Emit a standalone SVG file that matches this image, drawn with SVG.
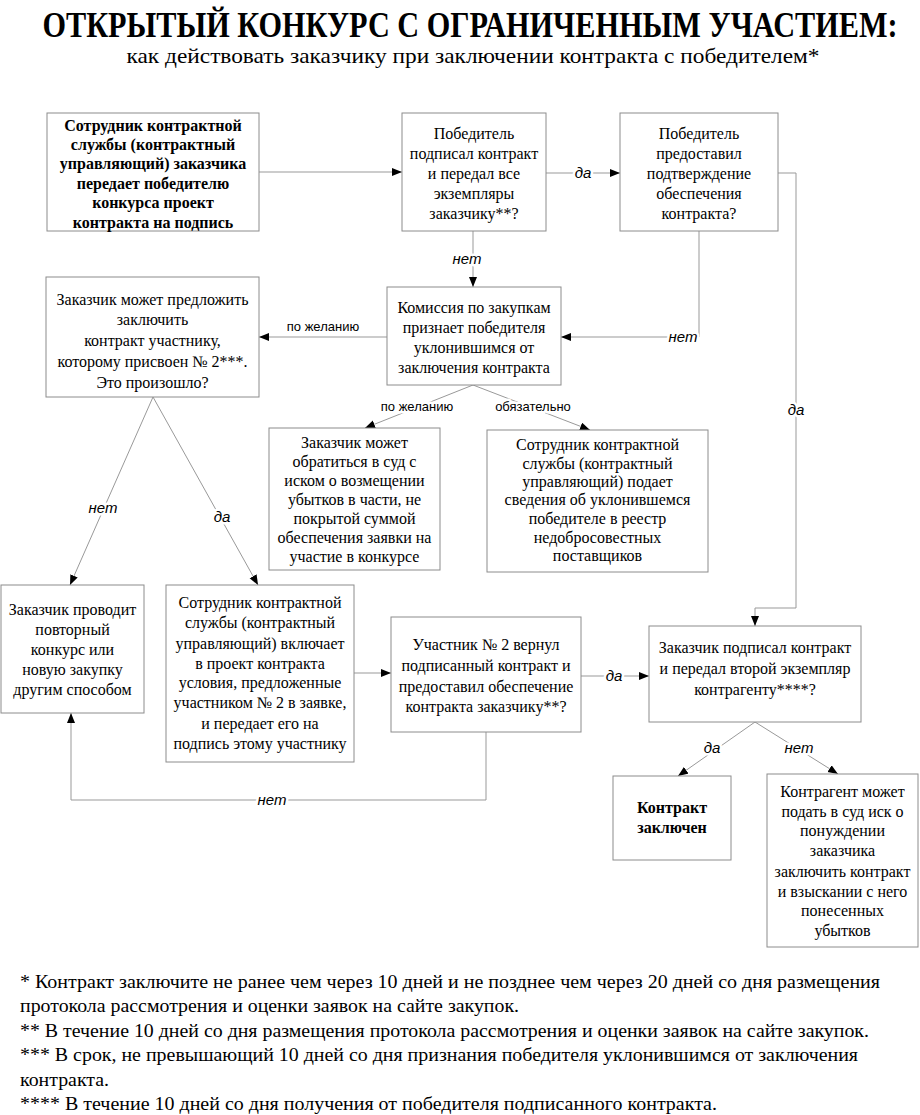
<svg xmlns="http://www.w3.org/2000/svg" width="920" height="1115" viewBox="0 0 920 1115">
<defs>
<marker id="ah" markerWidth="11" markerHeight="9" refX="10" refY="4" orient="auto" markerUnits="userSpaceOnUse">
<path d="M0,0 L10,4 L0,8 z" fill="#000"/>
</marker>
</defs>
<rect width="920" height="1115" fill="#fff"/>
<g id="title" font-family="'Liberation Serif','Times New Roman',serif" text-anchor="middle" fill="#000">
<text transform="translate(470,37) scale(0.8,1)" x="0" y="0" font-size="36" font-weight="bold" textLength="1069" lengthAdjust="spacingAndGlyphs">ОТКРЫТЫЙ КОНКУРС С ОГРАНИЧЕННЫМ УЧАСТИЕМ:</text>
<text x="473" y="63" font-size="21" textLength="693" lengthAdjust="spacingAndGlyphs">как действовать заказчику при заключении контракта с победителем*</text>
</g>
<g id="connectors">
<g fill="none" stroke="#999" stroke-width="1">
<line x1="259" y1="172" x2="402" y2="172" marker-end="url(#ah)"/>
<line x1="546" y1="173" x2="620" y2="173" marker-end="url(#ah)"/>
<line x1="473" y1="231" x2="473" y2="287" marker-end="url(#ah)"/>
<polyline points="699,231 699,337 561,337" marker-end="url(#ah)"/>
<polyline points="778,173 796,173 796,608 755,608 755,626" marker-end="url(#ah)"/>
<line x1="387" y1="337" x2="259" y2="337" marker-end="url(#ah)"/>
<line x1="473" y1="385" x2="365" y2="428" marker-end="url(#ah)"/>
<line x1="473" y1="385" x2="590" y2="430" marker-end="url(#ah)"/>
<line x1="153" y1="397" x2="70" y2="585" marker-end="url(#ah)"/>
<line x1="153" y1="397" x2="258" y2="585" marker-end="url(#ah)"/>
<line x1="354" y1="673" x2="391" y2="673" marker-end="url(#ah)"/>
<line x1="581" y1="676" x2="649" y2="676" marker-end="url(#ah)"/>
<polyline points="486,732 486,800 71,800 71,713" marker-end="url(#ah)"/>
<line x1="755" y1="722" x2="678" y2="776" marker-end="url(#ah)"/>
<line x1="755" y1="722" x2="838" y2="774" marker-end="url(#ah)"/>
</g>
<g font-family="'Liberation Sans',Arial,sans-serif" text-anchor="middle" fill="#000" stroke="#fff" stroke-width="5" paint-order="stroke" stroke-linejoin="round">
<g font-size="15" font-style="italic">
<text x="583" y="178">да</text>
<text x="467" y="264">нет</text>
<text x="683" y="342">нет</text>
<text x="796" y="415">да</text>
<text x="103" y="513">нет</text>
<text x="222" y="522">да</text>
<text x="614" y="681">да</text>
<text x="272" y="805">нет</text>
<text x="712" y="753">да</text>
<text x="799" y="753">нет</text>
</g>
<g font-size="13">
<text x="323" y="331">по желанию</text>
<text x="417" y="411">по желанию</text>
<text x="533" y="411">обязательно</text>
</g>
</g>
</g>
<g id="boxes" fill="#fff" stroke="#8c8c8c" stroke-width="1">
<rect id="r1" x="47" y="113" width="212" height="118"/>
<rect id="r2" x="402" y="113" width="144" height="118"/>
<rect id="r3" x="620" y="113" width="158" height="118"/>
<rect id="r4" x="387" y="287" width="174" height="98"/>
<rect id="r5" x="46" y="277" width="213" height="120"/>
<rect id="r6" x="269" y="428" width="171" height="142"/>
<rect id="r7" x="487" y="430" width="221" height="142"/>
<rect id="r8" x="1" y="585" width="143" height="128"/>
<rect id="r9" x="166" y="585" width="188" height="177"/>
<rect id="r10" x="391" y="617" width="190" height="115"/>
<rect id="r11" x="649" y="626" width="212" height="96"/>
<rect id="r12" x="613" y="776" width="118" height="84"/>
<rect id="r13" x="767" y="774" width="151" height="173"/>
</g>
<g id="nodes" font-family="'Liberation Serif','Times New Roman',serif" font-size="16" text-anchor="middle" fill="#000">
<g id="n1" font-weight="bold">
<text x="153" y="131">Сотрудник контрактной</text>
<text x="153" y="150">службы (контрактный</text>
<text x="153" y="169">управляющий) заказчика</text>
<text x="153" y="189">передает победителю</text>
<text x="153" y="208">конкурса проект</text>
<text x="153" y="228">контракта на подпись</text>
</g>
<g id="n2">
<text x="474" y="139">Победитель</text>
<text x="474" y="159">подписал контракт</text>
<text x="474" y="179">и передал все</text>
<text x="474" y="199">экземпляры</text>
<text x="474" y="219">заказчику**?</text>
</g>
<g id="n3">
<text x="699" y="139">Победитель</text>
<text x="699" y="159">предоставил</text>
<text x="699" y="179">подтверждение</text>
<text x="699" y="199">обеспечения</text>
<text x="699" y="219">контракта?</text>
</g>
<g id="n4">
<text x="474" y="313">Комиссия по закупкам</text>
<text x="474" y="333">признает победителя</text>
<text x="474" y="353">уклонившимся от</text>
<text x="474" y="373">заключения контракта</text>
</g>
<g id="n5">
<text x="152.5" y="305">Заказчик может предложить</text>
<text x="152.5" y="325">заключить</text>
<text x="152.5" y="346">контракт участнику,</text>
<text x="152.5" y="367">которому присвоен № 2***.</text>
<text x="152.5" y="388">Это произошло?</text>
</g>
<g id="n6">
<text x="354.5" y="448">Заказчик может</text>
<text x="354.5" y="467">обратиться в суд с</text>
<text x="354.5" y="486">иском о возмещении</text>
<text x="354.5" y="505">убытков в части, не</text>
<text x="354.5" y="524">покрытой суммой</text>
<text x="354.5" y="543">обеспечения заявки на</text>
<text x="354.5" y="562">участие в конкурсе</text>
</g>
<g id="n7">
<text x="597.5" y="450">Сотрудник контрактной</text>
<text x="597.5" y="469">службы (контрактный</text>
<text x="597.5" y="487">управляющий) подает</text>
<text x="597.5" y="505">сведения об уклонившемся</text>
<text x="597.5" y="524">победителе в реестр</text>
<text x="597.5" y="543">недобросовестных</text>
<text x="597.5" y="561">поставщиков</text>
</g>
<g id="n8">
<text x="72.5" y="615">Заказчик проводит</text>
<text x="72.5" y="635">повторный</text>
<text x="72.5" y="655">конкурс или</text>
<text x="72.5" y="675">новую закупку</text>
<text x="72.5" y="695">другим способом</text>
</g>
<g id="n9">
<text x="260" y="608">Сотрудник контрактной</text>
<text x="260" y="628">службы (контрактный</text>
<text x="260" y="649">управляющий) включает</text>
<text x="260" y="669">в проект контракта</text>
<text x="260" y="688">условия, предложенные</text>
<text x="260" y="708">участником № 2 в заявке,</text>
<text x="260" y="729">и передает его на</text>
<text x="260" y="749">подпись этому участнику</text>
</g>
<g id="n10">
<text x="486" y="650">Участник № 2 вернул</text>
<text x="486" y="671">подписанный контракт и</text>
<text x="486" y="692">предоставил обеспечение</text>
<text x="486" y="712">контракта заказчику**?</text>
</g>
<g id="n11">
<text x="755" y="653">Заказчик подписал контракт</text>
<text x="755" y="674">и передал второй экземпляр</text>
<text x="755" y="695">контрагенту****?</text>
</g>
<g id="n12" font-weight="bold">
<text x="672" y="813">Контракт</text>
<text x="672" y="833">заключен</text>
</g>
<g id="n13">
<text x="842.5" y="797">Контрагент может</text>
<text x="842.5" y="817">подать в суд иск о</text>
<text x="842.5" y="836">понуждении</text>
<text x="842.5" y="856">заказчика</text>
<text x="842.5" y="877">заключить контракт</text>
<text x="842.5" y="897">и взыскании с него</text>
<text x="842.5" y="916">понесенных</text>
<text x="842.5" y="936">убытков</text>
</g>
</g>
<g id="footnotes" font-family="'Liberation Serif','Times New Roman',serif" font-size="18" fill="#000" lengthAdjust="spacingAndGlyphs">
<text x="20" y="988" textLength="860" lengthAdjust="spacingAndGlyphs">* Контракт заключите не ранее чем через 10 дней и не позднее чем через 20 дней со дня размещения</text>
<text x="20" y="1012" textLength="499" lengthAdjust="spacingAndGlyphs">протокола рассмотрения и оценки заявок на сайте закупок.</text>
<text x="20" y="1037" textLength="849" lengthAdjust="spacingAndGlyphs">** В течение 10 дней со дня размещения протокола рассмотрения и оценки заявок на сайте закупок.</text>
<text x="20" y="1061" textLength="838" lengthAdjust="spacingAndGlyphs">*** В срок, не превышающий 10 дней со дня признания победителя уклонившимся от заключения</text>
<text x="20" y="1086" textLength="89" lengthAdjust="spacingAndGlyphs">контракта.</text>
<text x="20" y="1110" textLength="697" lengthAdjust="spacingAndGlyphs">**** В течение 10 дней со дня получения от победителя подписанного контракта.</text>
</g>
</svg>
